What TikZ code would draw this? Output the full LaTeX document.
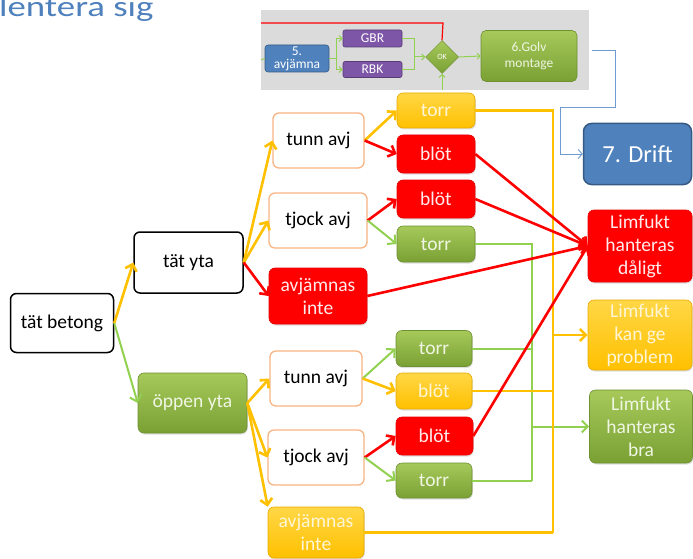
\documentclass[tikz,border=0pt]{standalone}
\usepackage{fontspec}
\usepackage{graphicx}
\setmainfont{Carlito}
\usetikzlibrary{arrows.meta,shapes.geometric,shadows}
\definecolor{ylw}{HTML}{FFC000}
\definecolor{lgreen}{HTML}{92D050}
\definecolor{dblue}{HTML}{4F81BD}
\definecolor{lblue}{HTML}{6F9BD3}
\definecolor{orng}{HTML}{F8B482}
\definecolor{purp}{HTML}{7E56A8}
\definecolor{gtop}{RGB}{166,201,90}
\definecolor{gbotc}{RGB}{122,160,52}
\definecolor{gdraw}{RGB}{110,145,50}
\definecolor{gtext}{RGB}{240,246,228}
\definecolor{ytop}{RGB}{255,215,70}
\definecolor{ydraw}{RGB}{230,170,0}
\definecolor{ytext}{RGB}{255,245,215}
\definecolor{rdraw}{RGB}{230,0,0}
\definecolor{rtext}{RGB}{255,235,235}
\tikzset{
  bx/.style={rounded corners=6pt, align=center, inner sep=0pt, font=\fontsize{19.5}{23}\selectfont},
  wbox/.style={bx, draw=black, line width=1.5pt, fill=white, minimum width=103pt, minimum height=59pt},
  obox/.style={bx, draw=orng, line width=1.3pt, fill=white, minimum width=94pt, minimum height=55pt},
  shd/.style={drop shadow={opacity=0.25, shadow xshift=0.8pt, shadow yshift=-1.5pt}},
  gbox/.style={bx, draw=gdraw, line width=0.6pt, top color=gtop, bottom color=gbotc, text=gtext, shd},
  ybox/.style={bx, draw=ydraw, line width=0.6pt, top color=ytop, bottom color=ylw, text=ytext, shd},
  rbox/.style={bx, draw=rdraw, line width=0.6pt, fill=red, text=rtext, shd},
  sbox/.style={minimum width=78pt, minimum height=36pt},
  tip/.style={-{Straight Barb[length=6pt,width=12pt]}},
  yarr/.style={draw=ylw, line width=2.6pt, tip},
  rarr/.style={draw=red, line width=2.6pt, tip},
  garr/.style={draw=lgreen, line width=2pt, tip},
  yln/.style={draw=ylw, line width=2.6pt},
  gln/.style={draw=lgreen, line width=2pt},
  pg/.style={draw=lgreen, line width=1pt},
  pgarr/.style={pg, -{Straight Barb[length=3pt,width=6pt]}},
  pfont/.style={font=\fontsize{13.5}{13}\selectfont},
}
\begin{document}
\begin{tikzpicture}[x=1pt,y=-1pt]
\useasboundingbox (0,0) rectangle (693,559);

% title
\node[anchor=base west, inner sep=0pt, text=dblue, font=\fontsize{29}{32}\selectfont] (title) at (-1,16.5) {\scalebox{1.27}[1]{lentera sig}};

% top panel
\fill[gray!28] (261,10) rectangle (589,90);
\coordinate (redstart) at (261,23);
\coordinate (redcorner) at (443,23);
\node[bx, rounded corners=3pt, fill=dblue, draw=dblue!70!black, line width=0.6pt, minimum width=64pt, minimum height=27pt, text=white, pfont] (av5) at (297,58.5) {5.\\avjämna};
\node[bx, rounded corners=2pt, fill=purp, draw=purp!70!black, line width=0.6pt, minimum width=59pt, minimum height=17pt, text=white, pfont] (gbr) at (372.5,38.5) {GBR};
\node[bx, rounded corners=2pt, fill=purp, draw=purp!70!black, line width=0.6pt, minimum width=59pt, minimum height=16pt, text=white, pfont] (rbk) at (372.5,69.5) {RBK};
\node[diamond, inner sep=0pt, minimum width=33pt, minimum height=33pt, top color=gtop, bottom color=gbotc, draw=gdraw, line width=0.5pt, text=white, font=\fontsize{8}{8}\selectfont] (ok) at (442,57) {OK};
\node[bx, rounded corners=5pt, top color=gtop, bottom color=gbotc, draw=gdraw, line width=0.6pt, minimum width=96pt, minimum height=51pt, text=gtext, font=\fontsize{13.5}{16}\selectfont] (golv) at (529,56) {6.Golv\\montage};
\draw[red, line width=1.2pt] (redstart) -- (redcorner) -- (ok.north);
\coordinate (pin) at (261,60);
\draw[pg] (pin) -- (av5.west);
\coordinate (split) at (336,58.5);
\draw[pg] (av5.east) -- (split);
\draw[pgarr] (split) |- (gbr.west);
\draw[pgarr] (split) |- (rbk.west);
\coordinate (join) at (414,57);
\draw[pg] (gbr.east) -| (join);
\draw[pg] (rbk.east) -| (join);
\draw[pgarr] (join) -- (ok.west);
\draw[pgarr] (ok.east) -- (golv.west);
\coordinate (okin) at (442,90);
\draw[pgarr] (okin) -- (ok.south);

% drift
\node[bx, rounded corners=8pt, fill=dblue, draw=dblue!70!black, line width=1.5pt, minimum width=108pt, minimum height=61pt, text=white, font=\fontsize{24.5}{26}\selectfont] (drift) at (637.5,154) {7. Drift};
\coordinate (b0) at (592,50);
\draw[lblue, line width=0.9pt, -{Straight Barb[length=4pt,width=9pt]}] (b0) -- (615,50) -- (615,107) -- (560,107) |- (drift.west);

% tree
\node[wbox] (betong) at (62,323) {tät betong};
\node[wbox, minimum width=109pt, minimum height=61pt] (tatyta) at (188.5,262.5) {tät yta};
\node[gbox, minimum width=109pt, minimum height=60pt] (oppen) at (192.5,403) {öppen yta};

\node[obox, minimum width=91pt] (tunn1) at (318.5,140.5) {tunn avj};
\node[obox, minimum width=98pt] (tjock1) at (318,220.5) {tjock avj};
\node[rbox, minimum width=98pt, minimum height=56pt] (avj1) at (318,296) {avjämnas\\inte};

\node[obox, minimum width=92pt] (tunn2) at (316,378.5) {tunn avj};
\node[obox, minimum width=96pt] (tjock2) at (316,457.5) {tjock avj};
\node[ybox, minimum width=96pt, minimum height=51pt] (avj2) at (316,532.5) {avjämnas\\inte};

\node[ybox, sbox, minimum height=35pt] (torr1) at (436,110.5) {torr};
\node[rbox, sbox, minimum height=38pt] (blot1) at (436,154) {blöt};
\node[rbox, sbox, minimum height=38pt] (blot2) at (436,199) {blöt};
\node[gbox, sbox] (torr2) at (436,244) {torr};
\node[gbox, sbox, minimum width=76pt] (torr3) at (434,348.5) {torr};
\node[ybox, sbox, minimum width=76pt] (blot3) at (434,391) {blöt};
\node[rbox, sbox, minimum width=77pt, minimum height=38pt] (blot4) at (434.5,436) {blöt};
\node[gbox, sbox, minimum width=76pt, minimum height=35pt] (torr4) at (434,480.5) {torr};

\node[rbox, minimum width=104pt, minimum height=72pt] (dalig) at (640,246) {Limfukt\\hanteras\\dåligt};
\node[ybox, minimum width=104pt, minimum height=70pt] (kan) at (640,335) {Limfukt\\kan ge\\problem};
\node[gbox, minimum width=103pt, minimum height=73pt] (bra) at (641,426.5) {Limfukt\\hanteras\\bra};

% connectors level 1-2
\draw[yarr] (betong.east) -- (tatyta.west);
\draw[garr] (betong.east) -- (oppen.west);
\draw[yarr] (tatyta.east) -- (tunn1.west);
\draw[yarr] (tatyta.east) -- (tjock1.west);
\draw[rarr] (tatyta.east) -- (avj1.west);
\draw[yarr] (oppen.east) -- (tunn2.west);
\draw[yarr] (oppen.east) -- (tjock2.west);
\draw[yarr] (oppen.east) -- (avj2.north west);

% level 3
\draw[yarr] (tunn1.east) -- (torr1.west);
\draw[rarr] (tunn1.east) -- (blot1.west);
\draw[rarr] (tjock1.east) -- (blot2.west);
\draw[garr] (tjock1.east) -- (torr2.west);
\draw[garr] (tunn2.east) -- (torr3.west);
\draw[yarr] (tunn2.east) -- (blot3.west);
\draw[rarr] (tjock2.east) -- (blot4.west);
\draw[garr] (tjock2.east) -- (torr4.west);

% outcomes: green bus
\coordinate (gbot) at (532,480.5);
\draw[gln] (torr2.east) -| (gbot);
\draw[gln] (torr3.east) -- (torr3.east -| gbot);
\draw[gln] (torr4.east) -- (gbot);
\draw[garr] (bra.west -| gbot) -- (bra.west);

% outcomes: yellow bus
\coordinate (ybot) at (553,532.5);
\draw[yln] (torr1.east) -| (ybot);
\draw[yln] (avj2.east) -- (ybot);
\draw[yln] (blot3.east) -- (blot3.east -| ybot);
\draw[yarr] (kan.west -| ybot) -- (kan.west);

% outcomes: red
\draw[rarr] (blot1.east) -- (dalig.west);
\draw[rarr] (blot2.east) -- (dalig.west);
\draw[rarr] (avj1.east) -- (dalig.west);
\draw[rarr] (blot4.east) -- (dalig.west);
\end{tikzpicture}
\end{document}
